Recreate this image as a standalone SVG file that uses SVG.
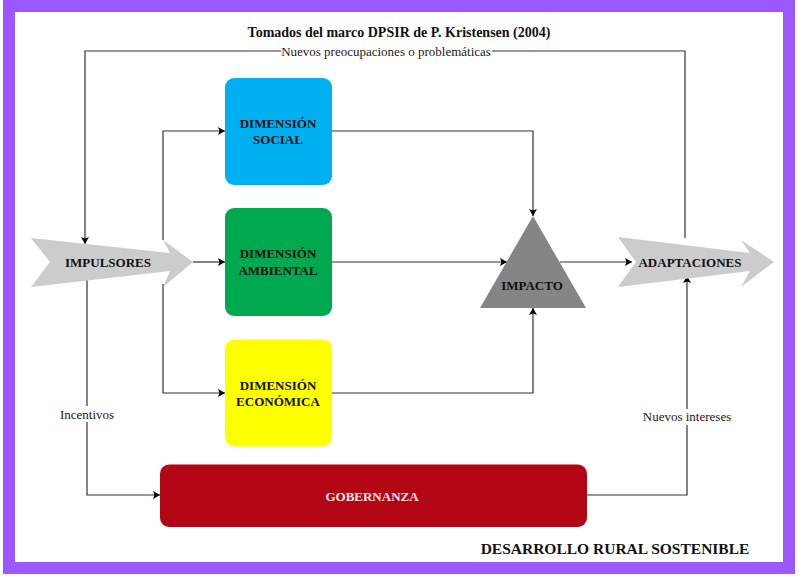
<svg xmlns="http://www.w3.org/2000/svg" width="800" height="581" viewBox="0 0 800 581">
<style>
text{font-family:"Liberation Serif","Times New Roman",serif;text-anchor:middle;fill:#111}
.b{font-weight:bold;font-size:13px}
.l{font-size:13px;fill:#1a1a1a}
.c{fill:none;stroke:#333;stroke-width:1.2}
.w{fill:#fff}
</style>
<defs><marker id="a" markerUnits="userSpaceOnUse" markerWidth="8" markerHeight="8" refX="7" refY="4" orient="auto"><path d="M0 0L7 4L0 8L1.5 4Z" fill="#000"/></marker></defs>
<rect width="800" height="581" fill="#fff"/>
<rect id="frame" x="9" y="6" width="768" height="550" transform="translate(0 0)" fill="none" stroke="#9d57ff" stroke-width="12" style="display:none"/>
<path id="marco" fill-rule="evenodd" fill="#9d57ff" d="M3 0H795V574H3ZM15 12V562H783V12Z"/>
<g id="conectores">
<path class="c" marker-end="url(#a)" d="M685 238V51H85V244"/>
<path class="c" marker-end="url(#a)" d="M163 240V131H225"/>
<path class="c" marker-end="url(#a)" d="M193 262H225"/>
<path class="c" marker-end="url(#a)" d="M163 284V393H225"/>
<path class="c" marker-end="url(#a)" d="M332 131H533V216"/>
<path class="c" marker-end="url(#a)" d="M332 262H507"/>
<path class="c" marker-end="url(#a)" d="M332 393H533V308"/>
<path class="c" marker-end="url(#a)" d="M560 262H632"/>
<path class="c" marker-end="url(#a)" d="M87 280V495H160"/>
<path class="c" marker-end="url(#a)" d="M587 495H687V276"/>
</g>
<g id="titulo"><text class="b" x="399" y="37" style="font-size:14px">Tomados del marco DPSIR de P. Kristensen (2004)</text></g>
<g id="etiqueta-preocupaciones"><rect class="w" x="281" y="44" width="211" height="14"/><text class="l" x="386" y="56">Nuevos preocupaciones o problemáticas</text></g>
<g id="impulsores"><path fill="#ccc" d="M31 238L170 253L163 240L193 262L163 287L170 271L31 287L50 262Z"/><text class="b" x="108" y="267">IMPULSORES</text></g>
<g id="social"><rect x="225" y="78" width="107" height="107" rx="9" fill="#00b0f0"/><text class="b" x="278" y="128" fill="#0b2a3a">DIMENSIÓN</text><text class="b" x="278" y="144">SOCIAL</text></g>
<g id="ambiental"><rect x="225" y="208" width="107" height="108" rx="9" fill="#00a84f"/><text class="b" x="278" y="258">DIMENSIÓN</text><text class="b" x="278" y="275">AMBIENTAL</text></g>
<g id="economica"><rect x="225" y="339.500" width="107" height="107" rx="9" fill="#ff0"/><text class="b" x="278" y="390">DIMENSIÓN</text><text class="b" x="278" y="406">ECONÓMICA</text></g>
<g id="impacto"><path fill="#858585" d="M533 216L586 308H480Z"/><text class="b" x="532" y="290">IMPACTO</text></g>
<g id="adaptaciones"><path fill="#ccc" d="M618 237L750 253L741 240L774 262L741 287L750 271L618 287L636 262Z"/><text class="b" x="690" y="267">ADAPTACIONES</text></g>
<g id="gobernanza"><rect x="160" y="464.500" width="427" height="62.500" rx="9" fill="#b30615"/><text class="b" x="372" y="501" style="fill:#f5e6e6">GOBERNANZA</text></g>
<g id="etiqueta-incentivos"><rect class="w" x="60" y="406" width="54" height="16"/><text class="l" x="87" y="419">Incentivos</text></g>
<g id="etiqueta-intereses"><rect class="w" x="642" y="409" width="90" height="16"/><text class="l" x="687" y="421">Nuevos intereses</text></g>
<g id="pie"><text class="b" x="615" y="554" style="font-size:15.500px">DESARROLLO RURAL SOSTENIBLE</text></g>
</svg>
